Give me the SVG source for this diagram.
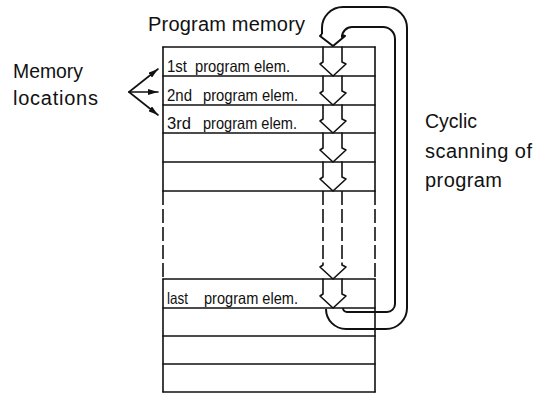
<svg xmlns="http://www.w3.org/2000/svg" width="545" height="394" viewBox="0 0 545 394">
<defs>
<style>
.ln{stroke:#111;stroke-width:1.6;fill:none;stroke-linecap:round;stroke-linejoin:round}
.dsh{stroke-dasharray:14 4;stroke-linecap:butt}
.lp{stroke:#111;stroke-width:2;fill:none;stroke-linejoin:round}
.t{font-family:"Liberation Sans",Arial,sans-serif;fill:#111}
.big{font-size:20px}
.row{font-size:16.5px}
</style>
<marker id="ah" viewBox="0 0 10 6" refX="10" refY="3" markerWidth="10" markerHeight="6" markerUnits="userSpaceOnUse" orient="auto">
<path d="M0,0 L10,3 L0,6 Z" fill="#111"/>
</marker>
</defs>
<rect width="545" height="394" fill="#fff"/>

<g id="program-memory">
<path class="ln" d="M163,47 H375 M163,76 H375 M163,105 H375 M163,133 H375 M163,162 H375 M163,191 H375 M163,279 H375 M163,308 H375 M163,336 H375 M163,364 H375 M163,392 H375"/>
<path class="ln" d="M163,47 V191 M375,47 V191 M163,279 V392 M375,279 V392"/>
<path class="ln dsh" d="M163,191 V279 M375,191 V279"/>
<text class="t big" x="148" y="31" textLength="157" lengthAdjust="spacing">Program memory</text>
</g>

<g id="row-labels">
<text class="t row" x="167" y="72" textLength="20" lengthAdjust="spacingAndGlyphs">1st</text>
<text class="t row" x="195" y="72" textLength="95" lengthAdjust="spacingAndGlyphs">program elem.</text>
<text class="t row" x="167" y="101" textLength="25" lengthAdjust="spacingAndGlyphs">2nd</text>
<text class="t row" x="203" y="101" textLength="95" lengthAdjust="spacingAndGlyphs">program elem.</text>
<text class="t row" x="167" y="129" textLength="24" lengthAdjust="spacingAndGlyphs">3rd</text>
<text class="t row" x="203" y="129" textLength="94" lengthAdjust="spacingAndGlyphs">program elem.</text>
<text class="t row" x="167" y="304" textLength="21" lengthAdjust="spacingAndGlyphs">last</text>
<text class="t row" x="204" y="304" textLength="94" lengthAdjust="spacingAndGlyphs">program elem.</text>
</g>

<g id="memory-locations">
<text class="t big" x="13" y="78" textLength="70" lengthAdjust="spacingAndGlyphs">Memory</text>
<text class="t big" x="13" y="105" textLength="85" lengthAdjust="spacing">locations</text>
</g>

<g id="cyclic-label">
<text class="t big" x="425" y="128" textLength="52" lengthAdjust="spacingAndGlyphs">Cyclic</text>
<text class="t big" x="425" y="158" textLength="107" lengthAdjust="spacing">scanning of</text>
<text class="t big" x="425" y="187" textLength="77" lengthAdjust="spacing">program</text>
</g>

<g id="connectors">
<path class="ln" d="M129,92 L158,69" marker-end="url(#ah)"/>
<path class="ln" d="M129,92 L158,92" marker-end="url(#ah)"/>
<path class="ln" d="M129,92 L158,115" marker-end="url(#ah)"/>

<path class="ln" d="M323,47 V62 L320,64 L333,76 L346,64 L342,62 V47"/>
<path class="ln" d="M323,76 V91 L320,93 L333,105 L346,93 L342,91 V76"/>
<path class="ln" d="M323,105 V119 L320,121 L333,133 L346,121 L342,119 V105"/>
<path class="ln" d="M323,133 V148 L320,150 L333,162 L346,150 L342,148 V133"/>
<path class="ln" d="M323,162 V177 L320,179 L333,191 L346,179 L342,177 V162"/>
<path class="ln dsh" d="M323,191 V263 M342,191 V263"/>
<path class="ln" d="M323,263 V265 L320,267 L333,279 L346,267 L342,265 V263"/>
<path class="ln" d="M323,279 V294 L320,296 L333,308 L346,296 L342,294 V279"/>

<path class="lp" d="M322,34 V28 A21,21 0 0 1 343,7 H386 A21,21 0 0 1 407,28 V308 A21,21 0 0 1 386,329 H346 A20,20 0 0 1 326,309"/>
<path class="lp" d="M342,35 V37 A10,10 0 0 1 352,27 H383 A12,12 0 0 1 395,39 V304 A8,8 0 0 1 387,312 H347 A4,4 0 0 1 343,308"/>
<path class="lp" d="M322,34 L320,36 L333,46 L345,36 L342,35"/>
</g>
</svg>
